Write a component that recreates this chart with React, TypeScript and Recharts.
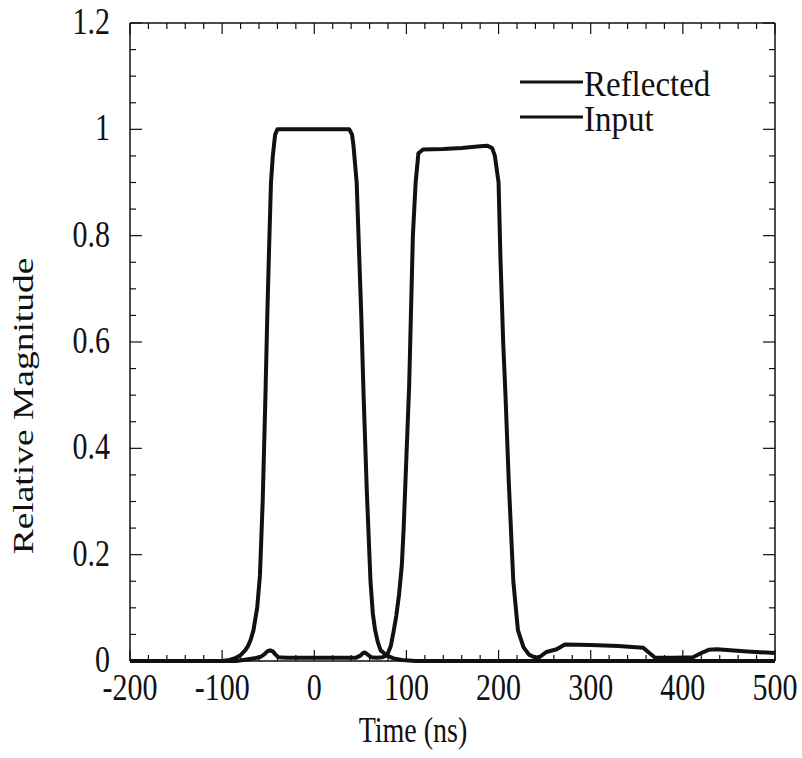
import { LineChart, Line, XAxis, YAxis, ReferenceLine, Label } from 'recharts';

// Time axis in ns, magnitude is relative (input peak = 1)
const inputTime = [
  -200, -100, -92, -85, -80, -75, -72, -69, -66, -62, -59, -56, -53, -51, -49, -47, -45, -42.5, -40,
  0, 38, 41, 42.5, 44, 46, 48, 51, 53.5, 57, 61, 63.5, 66, 69, 72, 79, 86, 95, 110, 200, 300, 400, 500,
];
const inputValue = [
  0, 0, 0.002, 0.006, 0.011, 0.02, 0.028, 0.04, 0.058, 0.1, 0.16, 0.3, 0.5, 0.65, 0.78, 0.9, 0.95, 0.99, 1.0,
  1.0, 1.0, 0.99, 0.97, 0.94, 0.9, 0.8, 0.65, 0.5, 0.32, 0.15, 0.09, 0.058, 0.035, 0.02, 0.01, 0.005, 0.002, 0, 0, 0, 0, 0,
];

const reflectedTime = [
  -200, -100, -85, -77, -65, -58, -54, -51, -48, -45, -42, -39, -30, 0, 30, 45, 50, 53, 55, 58, 62, 68, 74, 79,
  83, 86, 89, 92, 95, 97, 99, 103, 107, 110, 113, 118, 140, 160, 180, 188, 193, 196, 200, 202, 205, 207.5, 211, 216, 221,
  227, 233, 240, 245, 252, 263, 272, 300, 330, 357, 363, 370, 390, 411, 420, 428, 437, 470, 500,
];
const reflectedValue = [
  0, 0, 0, 0.002, 0.005, 0.008, 0.013, 0.018, 0.02, 0.018, 0.012, 0.007, 0.006, 0.006, 0.006, 0.006, 0.01, 0.015,
  0.016, 0.012, 0.007, 0.006, 0.007, 0.011, 0.028, 0.055, 0.085, 0.125, 0.18, 0.25, 0.34, 0.52, 0.8, 0.9, 0.955,
  0.962, 0.963, 0.965, 0.968, 0.969, 0.965, 0.95, 0.9, 0.76, 0.6, 0.5, 0.34, 0.15, 0.058, 0.026, 0.012, 0.006,
  0.008, 0.017, 0.022, 0.031, 0.03, 0.028, 0.025, 0.016, 0.006, 0.006, 0.007, 0.015, 0.021, 0.022, 0.018, 0.015,
];

const legendNames = ['Reflected', 'Input'];
const xMajor = [-200, -100, 0, 100, 200, 300, 400, 500];
const yMajor = [0, 0.2, 0.4, 0.6, 0.8, 1, 1.2];
// minor ticks every 20 ns / 0.05
const xTicks = Array.from({ length: 36 }, (_, i) => -200 + i * 20);
const yTicks = Array.from({ length: 25 }, (_, i) => Math.round(i * 5) / 100);

const inputData = inputTime.map((t, i) => ({ t, v: inputValue[i] }));
const reflectedData = reflectedTime.map((t, i) => ({ t, v: reflectedValue[i] }));

const W = 802;
const H = 758;
const MARGIN = { top: 23, right: 27, bottom: 7, left: 10 };
const Y_AXIS_W = 120;
const X_AXIS_H = 90;
const PLOT_W = W - MARGIN.left - MARGIN.right - Y_AXIS_W;
const PLOT_H = H - MARGIN.top - MARGIN.bottom - X_AXIS_H;
const FONT = '"Liberation Serif", "DejaVu Serif", serif';
const INK = '#111';

function XTick({ x, y, payload }: any) {
  const v = payload.value;
  const major = xMajor.includes(v);
  const len = major ? 11 : 6;
  return (
    <g>
      <line x1={x} y1={y} x2={x} y2={y - len} stroke={INK} strokeWidth={1.2} />
      <line x1={x} y1={y - PLOT_H} x2={x} y2={y - PLOT_H + len} stroke={INK} strokeWidth={1.2} />
      {major && (
        <g transform={`translate(${x},${y + 39}) scale(1,1.25)`}>
          <text textAnchor="middle" fontFamily={FONT} fontSize={30} fill={INK}>
            {v}
          </text>
        </g>
      )}
    </g>
  );
}

function YTick({ x, y, payload }: any) {
  const v = payload.value;
  const major = yMajor.some((m) => Math.abs(m - v) < 1e-6);
  const len = major ? 12 : 6;
  return (
    <g>
      <line x1={x} y1={y} x2={x + len} y2={y} stroke={INK} strokeWidth={1.2} />
      <line x1={x + PLOT_W} y1={y} x2={x + PLOT_W - len} y2={y} stroke={INK} strokeWidth={1.2} />
      {major && (
        <g transform={`translate(${x - 20},${y + 11}) scale(1,1.25)`}>
          <text textAnchor="end" fontFamily={FONT} fontSize={30} fill={INK}>
            {String(Math.round(v * 10) / 10)}
          </text>
        </g>
      )}
    </g>
  );
}

function TimeTitle() {
  return (
    <g transform={`translate(413,742) scale(1,1.25)`}>
      <text textAnchor="middle" fontFamily={FONT} fontSize={28} fill={INK}>
        Time (ns)
      </text>
    </g>
  );
}

function MagTitle() {
  return (
    <g transform="translate(33,406) scale(1,1.25) rotate(-90)">
      <text textAnchor="middle" fontFamily={FONT} fontSize={30} fill={INK}>
        Relative Magnitude
      </text>
    </g>
  );
}

function LegendBox() {
  return (
    <svg width={240} height={80} style={{ position: 'absolute', left: 520, top: 62 }}>
      {legendNames.map((name, i) => (
        <g key={name}>
          <line x1={0} y1={20 + i * 35} x2={63} y2={20 + i * 35} stroke={INK} strokeWidth={3.2} />
          <g transform={`translate(64,${34 + i * 35}) scale(1,1.1)`}>
            <text fontFamily={FONT} fontSize={33} fill={INK}>
              {name}
            </text>
          </g>
        </g>
      ))}
    </svg>
  );
}

export default function App() {
  return (
    <div style={{ position: 'absolute', left: 0, top: 0, width: W, height: H, background: '#fff' }}>
      <LineChart width={W} height={H} margin={MARGIN}>
        <XAxis
          dataKey="t"
          type="number"
          domain={[-200, 500]}
          ticks={xTicks}
          interval={0}
          height={X_AXIS_H}
          tickSize={0}
          tickMargin={0}
          tickLine={false}
          tick={<XTick />}
          axisLine={{ stroke: INK, strokeWidth: 1.5 }}
        >
          <Label content={<TimeTitle />} />
        </XAxis>
        <YAxis
          type="number"
          domain={[0, 1.2]}
          ticks={yTicks}
          interval={0}
          width={Y_AXIS_W}
          tickSize={0}
          tickMargin={0}
          tickLine={false}
          tick={<YTick />}
          axisLine={{ stroke: INK, strokeWidth: 1.5 }}
        >
          <Label content={<MagTitle />} />
        </YAxis>
        <ReferenceLine x={500} stroke={INK} strokeWidth={1.5} />
        <ReferenceLine y={1.2} stroke={INK} strokeWidth={1.5} />
        <Line
          name="Input"
          data={inputData}
          dataKey="v"
          type="linear"
          stroke={INK}
          strokeWidth={4}
          strokeLinejoin="round"
          dot={false}
          isAnimationActive={false}
        />
        <Line
          name="Reflected"
          data={reflectedData}
          dataKey="v"
          type="linear"
          stroke={INK}
          strokeWidth={4}
          strokeLinejoin="round"
          dot={false}
          isAnimationActive={false}
        />
      </LineChart>
      <LegendBox />
    </div>
  );
}
